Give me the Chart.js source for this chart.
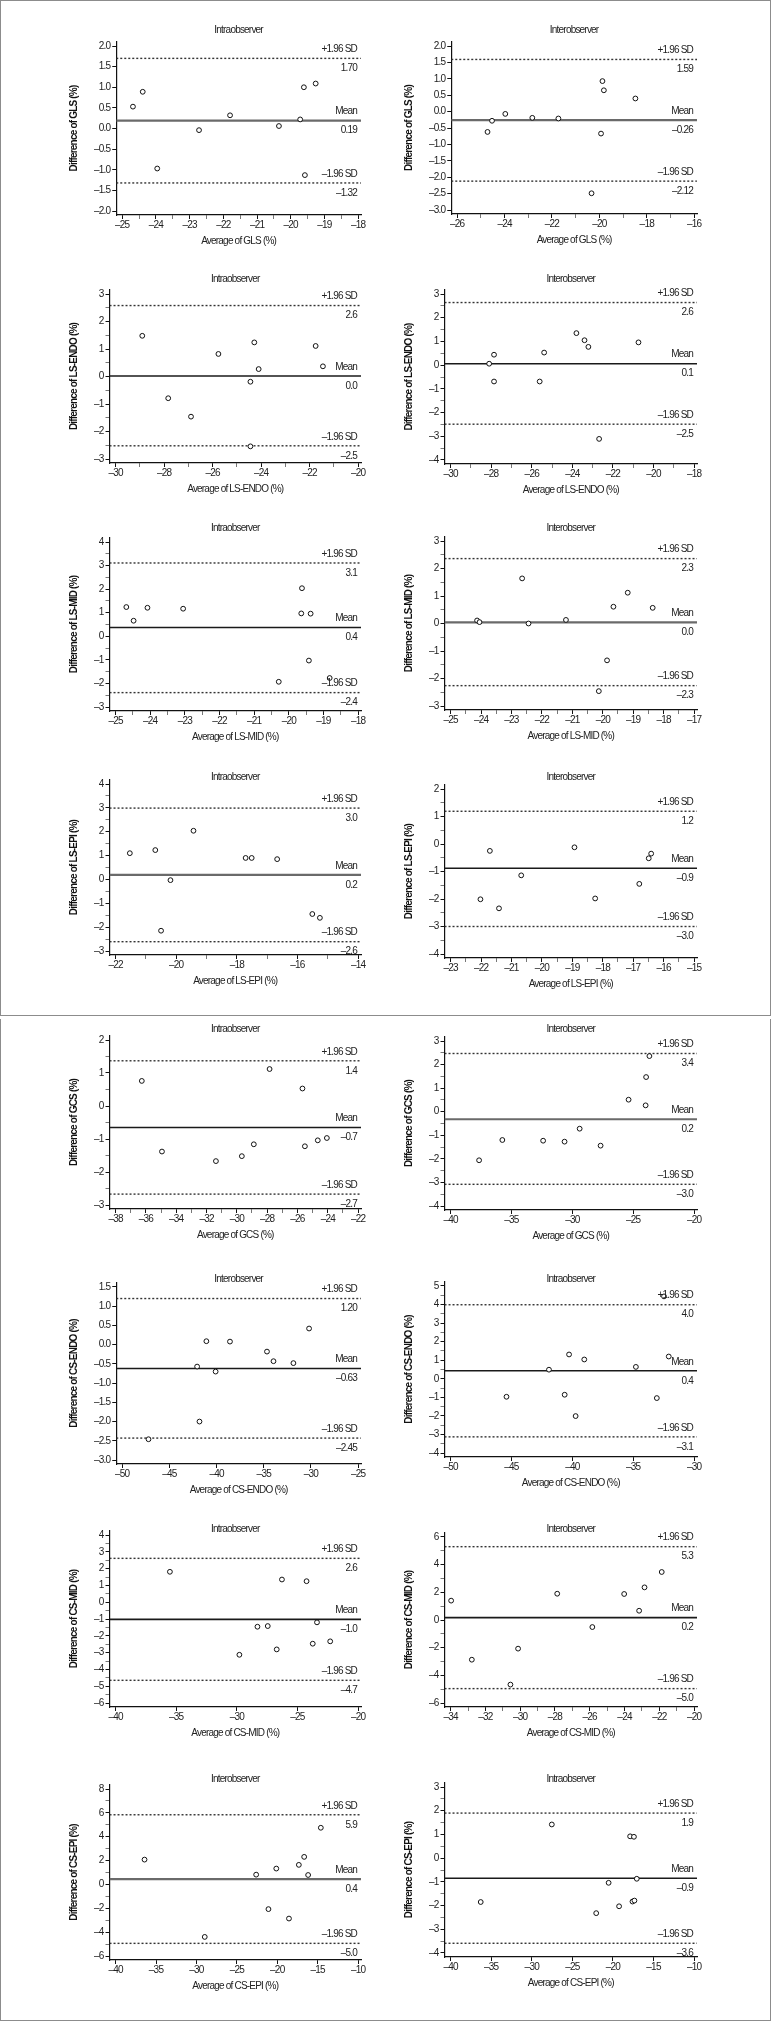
<!DOCTYPE html>
<html>
<head>
<meta charset="utf-8">
<script src="https://cdn.jsdelivr.net/npm/chart.js@4.4.1/dist/chart.umd.min.js"></script>
<style>
  html, body { margin: 0; padding: 0; background: #fff; }
  body { width: 771px; height: 2021px; position: relative; overflow: hidden; }
  .frame { position: absolute; left: 0; width: 771px; box-sizing: border-box; border: 1.5px solid #8c8c8c; }
  canvas { position: absolute; }
</style>
</head>
<body>
<div class="frame" style="top:0;height:1016px"></div>
<div class="frame" style="top:1019px;height:1002px;border-top:none"></div>
<script>
// Bland-Altman data, panels in reading order (row by row, left then right)
const glsIntraAvg = [-24.68, -24.39, -23.96, -22.72, -21.80, -20.35, -19.72, -19.61, -19.58, -19.26];
const glsIntraDiff = [0.53, 0.89, -0.97, -0.04, 0.32, 0.06, 0.22, 1.00, -1.13, 1.09];
const glsInterAvg = [-24.72, -24.53, -23.97, -22.83, -21.73, -20.33, -19.93, -19.87, -19.81, -18.48];
const glsInterDiff = [-0.62, -0.28, -0.07, -0.19, -0.21, -2.49, -0.67, 0.93, 0.65, 0.40];
const lsEndoIntraAvg = [-28.90, -27.83, -26.89, -25.76, -24.44, -24.44, -24.28, -24.10, -21.75, -21.45];
const lsEndoIntraDiff = [1.48, -0.79, -1.46, 0.82, -0.19, -2.54, 1.24, 0.27, 1.11, 0.37];
const lsEndoInterAvg = [-28.10, -27.86, -27.86, -25.61, -25.39, -23.80, -23.40, -23.21, -22.68, -20.74];
const lsEndoInterDiff = [0.06, 0.44, -0.69, -0.69, 0.53, 1.35, 1.05, 0.77, -3.11, 0.96];
const lsMidIntraAvg = [-24.69, -24.48, -24.08, -23.05, -20.29, -19.64, -19.62, -19.42, -19.37, -18.82];
const lsMidIntraDiff = [1.24, 0.66, 1.21, 1.17, -1.93, 0.97, 2.04, -1.03, 0.96, -1.77];
const lsMidInterAvg = [-24.13, -24.05, -22.65, -22.44, -21.21, -20.13, -19.86, -19.65, -19.18, -18.36];
const lsMidInterDiff = [0.11, 0.05, 1.64, 0.00, 0.13, -2.46, -1.34, 0.61, 1.12, 0.57];
const lsEpiIntraAvg = [-21.53, -20.69, -20.50, -20.19, -19.43, -17.71, -17.51, -16.67, -15.51, -15.26];
const lsEpiIntraDiff = [1.10, 1.23, -2.15, -0.03, 2.04, 0.90, 0.90, 0.85, -1.45, -1.61];
const lsEpiInterAvg = [-22.02, -21.71, -21.41, -20.68, -18.93, -18.25, -16.80, -16.49, -16.41];
const lsEpiInterDiff = [-2.01, -0.25, -2.34, -1.14, -0.12, -1.98, -1.45, -0.52, -0.35];
const gcsIntraAvg = [-36.27, -34.94, -31.38, -29.67, -28.88, -27.84, -25.67, -25.51, -24.66, -24.06];
const gcsIntraDiff = [0.76, -1.38, -1.67, -1.52, -1.16, 1.12, 0.53, -1.22, -1.04, -0.97];
const gcsInterAvg = [-37.66, -35.75, -32.40, -30.64, -29.40, -27.68, -25.38, -23.98, -23.94, -23.67];
const gcsInterDiff = [-2.06, -1.20, -1.23, -1.27, -0.72, -1.44, 0.51, 0.27, 1.47, 2.36];
const csEndoInterAvg = [-47.21, -42.06, -41.81, -41.08, -40.10, -38.58, -34.66, -33.97, -31.86, -30.20];
const csEndoInterDiff = [-2.46, -0.57, -2.00, 0.09, -0.70, 0.08, -0.18, -0.43, -0.48, 0.42];
const csEndoIntraAvg = [-45.41, -41.92, -40.63, -40.27, -39.73, -39.02, -34.78, -33.06, -32.47, -32.08];
const csEndoIntraDiff = [-0.97, 0.49, -0.86, 1.31, -2.01, 1.04, 0.64, -1.04, 4.44, 1.20];
const csMidIntraAvg = [-35.52, -29.79, -28.30, -27.45, -26.71, -26.28, -24.25, -23.74, -23.39, -22.30];
const csMidIntraDiff = [1.81, -3.13, -1.46, -1.42, -2.81, 1.35, 1.25, -2.47, -1.20, -2.33];
const csMidInterAvg = [-33.97, -32.78, -30.56, -30.12, -27.87, -25.85, -24.02, -23.16, -22.85, -21.86];
const csMidInterDiff = [1.40, -2.87, -4.67, -2.07, 1.90, -0.51, 1.88, 0.67, 2.36, 3.47];
const csEpiInterAvg = [-36.42, -28.97, -22.61, -21.09, -20.12, -18.55, -17.33, -16.67, -16.18, -14.61];
const csEpiInterDiff = [2.08, -4.40, 0.82, -2.07, 1.33, -2.86, 1.64, 2.31, 0.79, 4.75];
const csEpiIntraAvg = [-36.29, -27.53, -22.06, -20.53, -19.24, -17.88, -17.59, -17.41, -17.35, -17.06];
const csEpiIntraDiff = [-1.85, 1.42, -2.32, -1.04, -2.03, 0.92, -1.83, 0.90, -1.79, -0.87];

const panelTitles = ['Intraobserver', 'Interobserver', 'Intraobserver', 'Interobserver',
  'Intraobserver', 'Interobserver', 'Intraobserver', 'Interobserver',
  'Intraobserver', 'Interobserver', 'Interobserver', 'Intraobserver',
  'Intraobserver', 'Interobserver', 'Interobserver', 'Intraobserver'];
const measures = ['GLS', 'GLS', 'LS-ENDO', 'LS-ENDO', 'LS-MID', 'LS-MID', 'LS-EPI', 'LS-EPI',
  'GCS', 'GCS', 'CS-ENDO', 'CS-ENDO', 'CS-MID', 'CS-MID', 'CS-EPI', 'CS-EPI'];

// mean difference and limits of agreement (as drawn) and the numbers printed next to them
const upperLimits = [1.70, 1.59, 2.58, 2.64, 3.11, 2.36, 2.99, 1.19, 1.37, 2.47, 1.20, 3.99, 2.61, 5.30, 5.84, 1.90];
const meanDiffs = [0.19, -0.26, 0.02, 0.06, 0.37, 0.04, 0.19, -0.88, -0.65, -0.32, -0.62, 0.43, -1.02, 0.17, 0.45, -0.85];
const lowerLimits = [-1.32, -2.12, -2.52, -2.49, -2.39, -2.26, -2.61, -3.00, -2.67, -3.08, -2.43, -3.13, -4.65, -4.96, -4.94, -3.59];
const upperText = ['1.70', '1.59', '2.6', '2.6', '3.1', '2.3', '3.0', '1.2', '1.4', '3.4', '1.20', '4.0', '2.6', '5.3', '5.9', '1.9'];
const meanText = ['0.19', '\u20130.26', '0.0', '0.1', '0.4', '0.0', '0.2', '\u20130.9', '\u20130.7', '0.2', '\u20130.63', '0.4', '\u20131.0', '0.2', '0.4', '\u20130.9'];
const lowerText = ['\u20131.32', '\u20132.12', '\u20132.5', '\u20132.5', '\u20132.4', '\u20132.3', '\u20132.6', '\u20133.0', '\u20132.7', '\u20133.0', '\u20132.45', '\u20133.1', '\u20134.7', '\u20135.0', '\u20135.0', '\u20133.6'];

// axis ticks
const xTickMin = [-25, -26, -30, -30, -25, -25, -22, -23, -38, -40, -50, -50, -40, -34, -40, -40];
const xTickMax = [-18, -16, -20, -18, -18, -17, -14, -15, -22, -20, -25, -30, -20, -20, -10, -10];
const xLabelStep = [1, 2, 2, 2, 1, 1, 2, 1, 2, 5, 5, 5, 5, 2, 5, 5];
const xMinorStep = [0.5, 1, 1, 1, 0.5, 0.5, 1, 0.5, 1, 5, 5, 5, 5, 1, 5, 5];
const yTickMin = [-2, -3, -3, -4, -3, -3, -3, -4, -3, -4, -3, -4, -6, -6, -6, -4];
const yTickMax = [2, 2, 3, 3, 4, 3, 4, 2, 2, 3, 1.5, 5, 4, 6, 8, 3];
const yLabelStep = [0.5, 0.5, 1, 1, 1, 1, 1, 1, 1, 1, 0.5, 1, 1, 2, 2, 1];
const yMinorStep = [0.5, 0.5, 0.5, 0.5, 0.5, 0.5, 0.5, 0.5, 0.5, 0.5, 0.5, 0.5, 0.5, 1, 1, 0.5];
const yDecimals = [1, 1, 0, 0, 0, 0, 0, 0, 0, 0, 1, 0, 0, 0, 0, 0];

const panelAvg = [glsIntraAvg, glsInterAvg, lsEndoIntraAvg, lsEndoInterAvg, lsMidIntraAvg, lsMidInterAvg,
  lsEpiIntraAvg, lsEpiInterAvg, gcsIntraAvg, gcsInterAvg, csEndoInterAvg, csEndoIntraAvg,
  csMidIntraAvg, csMidInterAvg, csEpiInterAvg, csEpiIntraAvg];
const panelDiff = [glsIntraDiff, glsInterDiff, lsEndoIntraDiff, lsEndoInterDiff, lsMidIntraDiff, lsMidInterDiff,
  lsEpiIntraDiff, lsEpiInterDiff, gcsIntraDiff, gcsInterDiff, csEndoInterDiff, csEndoIntraDiff,
  csMidIntraDiff, csMidInterDiff, csEpiInterDiff, csEpiIntraDiff];

// mean lines that print lighter in the scan
const greyMean = [true, true, false, false, false, true, true, false, false, true, false, false, false, false, true, false];

// page layout (pixels)
const colLeft = [68, 403];
const colPlotRight = [361, 697];
const rowPlotTop = [[42, 42], [290, 290], [538, 537], [780, 785], [1036, 1037], [1283, 1282], [1531, 1533], [1785, 1783]];
const rowAxisY = [[215, 214], [463, 464], [711, 710], [955, 958], [1209, 1210], [1464, 1457], [1707, 1707], [1960, 1957]];
const rowTitleY = [30, 279, 528, 777, 1029, 1279, 1529, 1779];
const TOP_PAD = 20, RIGHT_PAD = 10, XBOX = 34;

const fontFamily = "'Liberation Sans', Arial, sans-serif";
Chart.defaults.font.family = fontFamily;
Chart.defaults.font.size = 10;
Chart.defaults.color = '#222';

const dash = '\u2013';
const fmt = (v, d) => (v < 0 ? dash : '') + Math.abs(v).toFixed(d);

const tickValues = (min, max, step) => {
    const n = Math.round((max - min) / step);
    const out = [];
    for (let i = 0; i <= n; i++) out.push(+(min + i * step).toFixed(6));
    return out;
};
const onStep = (v, step) => Math.abs(v / step - Math.round(v / step)) < 1e-6;

// tighter letters, the original uses a narrow face
const narrowText = {
    id: 'narrowText',
    beforeLayout(chart) { chart.ctx.letterSpacing = '-0.8px'; },
    beforeDraw(chart) { chart.ctx.letterSpacing = '-0.8px'; }
};

// Labels of the reference lines and the panel title
const refLabels = {
    id: 'refLabels',
    afterDatasetsDraw(chart, args, opts) {
        const { ctx, chartArea, scales } = chart;
        ctx.save();
        ctx.font = '10px ' + fontFamily;
        ctx.fillStyle = '#222';
        ctx.textBaseline = 'middle';
        ctx.textAlign = 'right';
        const xr = chartArea.right - 4;
        opts.lines.forEach(l => {
            const py = scales.y.getPixelForValue(l.value);
            ctx.fillText(l.name, xr, py - 9);
            ctx.fillText(l.text, xr, py + 10);
        });
        ctx.textAlign = 'center';
        ctx.fillText(opts.title, (chartArea.left + chartArea.right) / 2, opts.titleY);
        ctx.restore();
    }
};

const makePanel = (i) => {
    const row = Math.floor(i / 2), col = i % 2;
    const plotTop = rowPlotTop[row][col], axisY = rowAxisY[row][col];
    const left = colLeft[col];
    const width = colPlotRight[col] + RIGHT_PAD - left;
    const top = plotTop - TOP_PAD;
    const height = axisY - top + XBOX;

    const xr = xTickMax[i] - xTickMin[i];
    const xMin = xTickMin[i] - 0.025 * xr, xMax = xTickMax[i] + 0.012 * xr;
    const yr = yTickMax[i] - yTickMin[i];
    const plotH = axisY - plotTop;
    const yPad = 4 * yr / (plotH - 8);
    const yMin = yTickMin[i] - yPad, yMax = yTickMax[i] + yPad;

    const xTicks = tickValues(xTickMin[i], xTickMax[i], xMinorStep[i]);
    const yTicks = tickValues(yTickMin[i], yTickMax[i], yMinorStep[i]);

    const canvas = document.createElement('canvas');
    canvas.width = width;
    canvas.height = height;
    canvas.style.left = left + 'px';
    canvas.style.top = top + 'px';
    document.body.appendChild(canvas);

    const refLine = (v, dashed) => ({
        type: 'line',
        data: [{ x: xMin, y: v }, { x: xMax, y: v }],
        showLine: true,
        borderColor: dashed ? '#333' : (greyMean[i] ? '#6a6a6a' : '#1a1a1a'),
        borderWidth: dashed ? 1.4 : (greyMean[i] ? 2.2 : 1.6),
        borderDash: dashed ? [2, 2] : [],
        pointRadius: 0,
        fill: false
    });

    new Chart(canvas.getContext('2d'), {
        type: 'scatter',
        data: {
            datasets: [
                {
                    data: panelAvg[i].map((x, k) => ({ x, y: panelDiff[i][k] })),
                    pointStyle: 'circle',
                    pointRadius: 2.4,
                    borderWidth: 1,
                    borderColor: '#111',
                    backgroundColor: '#fff'
                },
                refLine(upperLimits[i], true),
                refLine(meanDiffs[i], false),
                refLine(lowerLimits[i], true)
            ]
        },
        options: {
            responsive: false,
            animation: false,
            events: [],
            layout: { padding: { top: TOP_PAD, right: RIGHT_PAD, left: 0, bottom: 0 } },
            plugins: {
                legend: { display: false },
                tooltip: { enabled: false },
                refLabels: {
                    title: panelTitles[i],
                    titleY: rowTitleY[row] - top,
                    lines: [
                        { value: upperLimits[i], name: '+1.96 SD', text: upperText[i] },
                        { value: meanDiffs[i], name: 'Mean', text: meanText[i] },
                        { value: lowerLimits[i], name: dash + '1.96 SD', text: lowerText[i] }
                    ]
                }
            },
            scales: {
                x: {
                    type: 'linear',
                    min: xMin,
                    max: xMax,
                    afterBuildTicks: s => { s.ticks = xTicks.map(v => ({ value: v })); },
                    ticks: {
                        autoSkip: false,
                        maxRotation: 0,
                        padding: 0,
                        color: '#222',
                        callback: v => onStep(v, xLabelStep[i]) ? fmt(v, 0) : ''
                    },
                    grid: {
                        drawOnChartArea: false,
                        drawTicks: true,
                        tickLength: 4,
                        tickColor: c => onStep(c.tick.value, xLabelStep[i]) ? '#111' : '#777'
                    },
                    border: { display: true, color: '#111', width: 1.2 },
                    title: {
                        display: true,
                        text: 'Average of ' + measures[i] + ' (%)',
                        font: { size: 10 },
                        color: '#222',
                        padding: { top: 4, bottom: 2 }
                    }
                },
                y: {
                    type: 'linear',
                    min: yMin,
                    max: yMax,
                    afterBuildTicks: s => { s.ticks = yTicks.map(v => ({ value: v })); },
                    ticks: {
                        autoSkip: false,
                        padding: 2,
                        color: '#222',
                        callback: v => onStep(v, yLabelStep[i]) ? fmt(v, yDecimals[i]) : ''
                    },
                    grid: {
                        drawOnChartArea: false,
                        drawTicks: true,
                        tickLength: 4,
                        tickColor: c => onStep(c.tick.value, yLabelStep[i]) ? '#111' : '#777'
                    },
                    border: { display: true, color: '#111', width: 1.2 },
                    title: {
                        display: true,
                        text: 'Difference of ' + measures[i] + ' (%)',
                        font: { size: 10, weight: 'bold' },
                        color: '#111',
                        padding: { top: 0, bottom: 12 }
                    }
                }
            }
        },
        plugins: [narrowText, refLabels]
    });
};

for (let i = 0; i < 16; i++) makePanel(i);
</script>
</body>
</html>
